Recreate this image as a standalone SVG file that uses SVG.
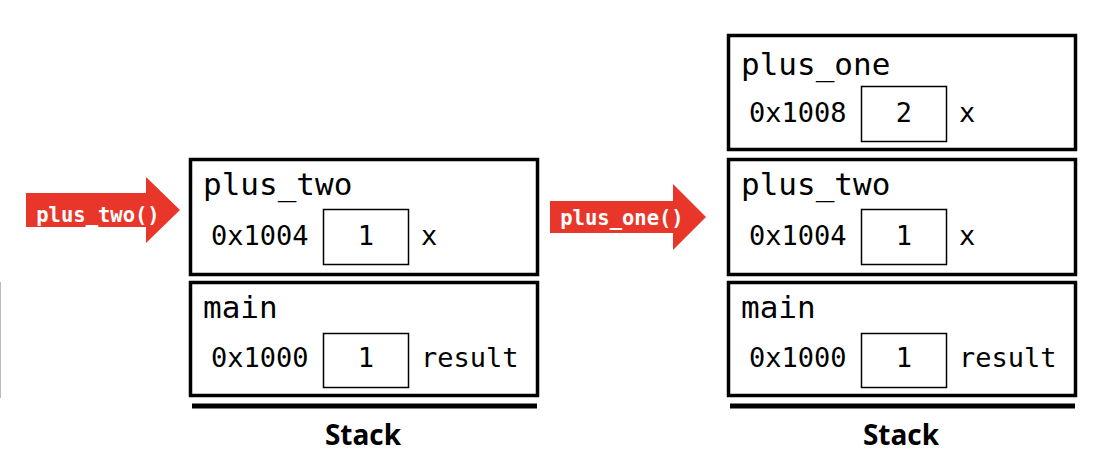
<svg xmlns="http://www.w3.org/2000/svg" width="1108" height="468" viewBox="0 0 1108 468">
<style>
.frame{fill:#fff;stroke:#000;stroke-width:3.5}
.cell{fill:#fff;stroke:#000;stroke-width:1.5}
.base{stroke:#000;stroke-width:5}
.mono{font-family:"DejaVu Sans Mono","Liberation Mono",monospace;fill:#000}
.fn{font-size:31px}
.v{font-size:27px}
.stk{font-family:"Open Sans","Liberation Sans",sans-serif;font-weight:bold;font-size:28px;text-anchor:middle;fill:#000}
.arr{fill:#E8372A}
.al{font-family:"DejaVu Sans Mono","Liberation Mono",monospace;font-weight:bold;font-size:20.5px;fill:#fff;text-anchor:middle}
</style>
<line x1="0.5" y1="282" x2="0.5" y2="398" stroke="#bbb" stroke-width="1"/>
<g id="call-plus_two">
<polygon class="arr" points="26,193 146,193 146,177 180,210 146,243 146,227 26,227"/>
<text class="al" x="98" y="222">plus_two()</text>
</g>
<g id="call-plus_one">
<polygon class="arr" points="550,201 673,201 673,184 706,217 673,250 673,233 550,233"/>
<text class="al" x="622" y="225">plus_one()</text>
</g>
<g id="left-plus_two">
<rect class="frame" x="190.5" y="159.5" width="347" height="115"/>
<text class="mono fn" x="203" y="195">plus_two</text>
<text class="mono v" x="211" y="245">0x1004</text>
<rect class="cell" x="323.5" y="209.5" width="85" height="55"/>
<text class="mono v" x="366" y="245" text-anchor="middle">1</text>
<text class="mono v" x="421" y="245">x</text>
</g>
<g id="left-main">
<rect class="frame" x="190.5" y="282.5" width="347" height="113"/>
<text class="mono fn" x="203" y="318">main</text>
<text class="mono v" x="211" y="367">0x1000</text>
<rect class="cell" x="323.5" y="333.5" width="85" height="54"/>
<text class="mono v" x="366" y="367" text-anchor="middle">1</text>
<text class="mono v" x="421" y="367">result</text>
</g>
<g id="left-stack">
<line class="base" x1="192" y1="406" x2="537" y2="406"/>
<text class="stk" x="363" y="445">Stack</text>
</g>
<g id="right-plus_one">
<rect class="frame" x="728.5" y="35.5" width="347" height="114"/>
<text class="mono fn" x="741" y="75">plus_one</text>
<text class="mono v" x="749" y="122">0x1008</text>
<rect class="cell" x="861.5" y="86.5" width="85" height="55"/>
<text class="mono v" x="904" y="122" text-anchor="middle">2</text>
<text class="mono v" x="959" y="122">x</text>
</g>
<g id="right-plus_two">
<rect class="frame" x="728.5" y="159.5" width="347" height="115"/>
<text class="mono fn" x="741" y="195">plus_two</text>
<text class="mono v" x="749" y="245">0x1004</text>
<rect class="cell" x="861.5" y="209.5" width="85" height="55"/>
<text class="mono v" x="904" y="245" text-anchor="middle">1</text>
<text class="mono v" x="959" y="245">x</text>
</g>
<g id="right-main">
<rect class="frame" x="728.5" y="282.5" width="347" height="113"/>
<text class="mono fn" x="741" y="318">main</text>
<text class="mono v" x="749" y="367">0x1000</text>
<rect class="cell" x="861.5" y="333.5" width="85" height="54"/>
<text class="mono v" x="904" y="367" text-anchor="middle">1</text>
<text class="mono v" x="959" y="367">result</text>
</g>
<g id="right-stack">
<line class="base" x1="730" y1="406" x2="1075" y2="406"/>
<text class="stk" x="901" y="445">Stack</text>
</g>
<g id="connectors"/>
</svg>
